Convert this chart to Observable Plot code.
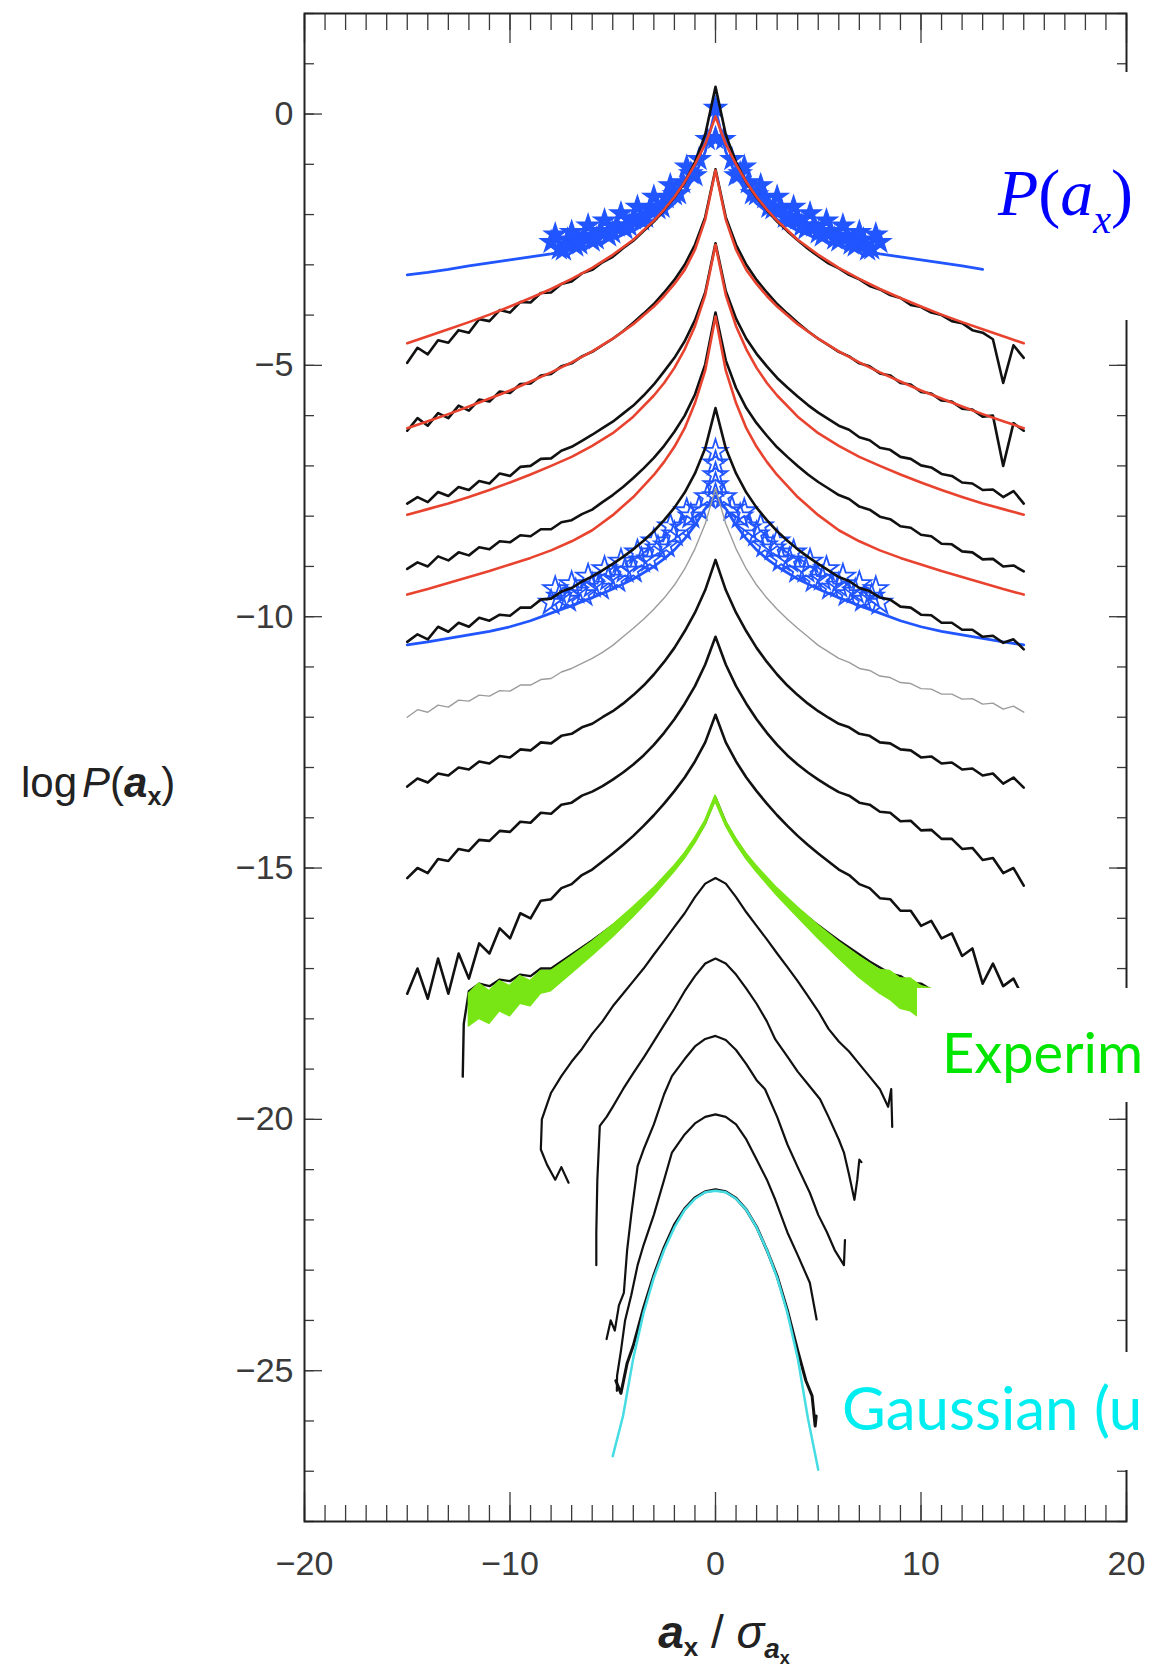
<!DOCTYPE html>
<html><head><meta charset="utf-8">
<script src="https://cdn.jsdelivr.net/npm/d3@7"></script>
<script src="https://cdn.jsdelivr.net/npm/@observablehq/plot@0.6"></script>
<style>
html,body{margin:0;padding:0;background:#fff;overflow:hidden}
#wrap{position:relative;width:1149px;height:1670px;overflow:hidden;background:#fff}
</style></head>
<body><div id="wrap"></div>
<script>
// ---------- tick labels ----------
const xTickLabels = [-20, -10, 0, 10, 20];
const yTickLabels = [0, -5, -10, -15, -20, -25];

// ---------- shared sample grid for the upper data curves ----------
const gridX = [-15,-14.5,-14,-13.5,-13,-12.5,-12,-11.5,-11,-10.5,-10,-9.5,-9,-8.5,-8,-7.5,-7,-6.5,-6,-5.5,-5,-4.5,-4,-3.5,-3,-2.5,-2,-1.5,-1,-0.5,0,0.5,1,1.5,2,2.5,3,3.5,4,4.5,5,5.5,6,6.5,7,7.5,8,8.5,9,9.5,10,10.5,11,11.5,12,12.5,13,13.5,14,14.5,15];

const b1Y = [-4.95,-4.65,-4.78,-4.5,-4.55,-4.3,-4.35,-4.08,-4.12,-3.9,-3.95,-3.74,-3.75,-3.56,-3.55,-3.38,-3.33,-3.17,-3.1,-2.95,-2.84,-2.67,-2.52,-2.33,-2.14,-1.91,-1.66,-1.36,-0.96,-0.41,
 0.54,
 -0.41,-0.96,-1.36,-1.66,-1.91,-2.14,-2.33,-2.51,-2.68,-2.83,-2.97,-3.07,-3.2,-3.29,-3.42,-3.49,-3.6,-3.66,-3.8,-3.84,-3.95,-4.0,-4.12,-4.16,-4.3,-4.35,-4.48,-5.35,-4.6,-4.85];
const b2Y = [-6.3,-6.05,-6.2,-5.95,-6.05,-5.8,-5.9,-5.68,-5.72,-5.52,-5.55,-5.37,-5.36,-5.2,-5.17,-5.02,-4.96,-4.82,-4.73,-4.6,-4.47,-4.32,-4.15,-3.97,-3.78,-3.55,-3.3,-3.0,-2.6,-2.05,
 -1.1,
 -2.05,-2.6,-3.0,-3.3,-3.55,-3.78,-3.97,-4.15,-4.32,-4.47,-4.6,-4.73,-4.82,-4.96,-5.02,-5.16,-5.2,-5.35,-5.38,-5.53,-5.56,-5.7,-5.72,-5.86,-5.88,-6.02,-6.0,-7.0,-6.15,-6.3];
const b3Y = [-7.75,-7.62,-7.72,-7.52,-7.6,-7.42,-7.48,-7.3,-7.35,-7.15,-7.2,-7.02,-7.0,-6.86,-6.85,-6.7,-6.62,-6.5,-6.38,-6.25,-6.12,-5.96,-5.8,-5.6,-5.38,-5.12,-4.85,-4.52,-4.1,-3.55,
 -2.57,
 -3.52,-4.07,-4.47,-4.77,-5.02,-5.25,-5.44,-5.62,-5.79,-5.94,-6.07,-6.2,-6.28,-6.43,-6.49,-6.64,-6.68,-6.82,-6.86,-6.99,-7.03,-7.16,-7.2,-7.33,-7.35,-7.48,-7.47,-7.62,-7.5,-7.75];
const b4Y = [-9.05,-8.92,-9.0,-8.8,-8.88,-8.72,-8.78,-8.62,-8.66,-8.5,-8.52,-8.38,-8.4,-8.26,-8.26,-8.12,-8.08,-7.96,-7.87,-7.72,-7.58,-7.42,-7.24,-7.05,-6.84,-6.6,-6.32,-6.0,-5.58,-4.98,
 -3.95,
 -4.9,-5.45,-5.85,-6.15,-6.4,-6.63,-6.82,-7.0,-7.17,-7.32,-7.45,-7.58,-7.66,-7.81,-7.87,-8.01,-8.06,-8.2,-8.23,-8.37,-8.4,-8.55,-8.56,-8.7,-8.72,-8.86,-8.85,-9.0,-8.98,-9.1];
const b5Y = [-10.5,-10.35,-10.45,-10.2,-10.3,-10.12,-10.2,-10.02,-10.08,-9.96,-9.98,-9.82,-9.82,-9.66,-9.64,-9.5,-9.43,-9.3,-9.2,-9.08,-8.95,-8.81,-8.66,-8.49,-8.3,-8.08,-7.83,-7.53,-7.15,-6.65,
 -5.85,
 -6.65,-7.15,-7.53,-7.83,-8.08,-8.3,-8.49,-8.66,-8.81,-8.95,-9.08,-9.21,-9.29,-9.43,-9.49,-9.62,-9.66,-9.8,-9.82,-9.96,-9.97,-10.12,-10.12,-10.26,-10.26,-10.4,-10.38,-10.52,-10.45,-10.65];
const grayY = [-12.0,-11.85,-11.9,-11.76,-11.8,-11.66,-11.68,-11.56,-11.58,-11.47,-11.48,-11.36,-11.36,-11.25,-11.23,-11.1,-11.03,-10.93,-10.83,-10.71,-10.57,-10.4,-10.23,-10.05,-9.85,-9.63,-9.37,-9.05,-8.65,-8.15,
 -7.45,
 -8.15,-8.65,-9.05,-9.37,-9.63,-9.85,-10.05,-10.23,-10.4,-10.57,-10.7,-10.83,-10.91,-11.03,-11.07,-11.18,-11.21,-11.31,-11.33,-11.43,-11.44,-11.54,-11.54,-11.64,-11.63,-11.74,-11.72,-11.84,-11.78,-11.9];
const b6Y = [-13.38,-13.22,-13.3,-13.12,-13.16,-13.0,-13.04,-12.88,-12.92,-12.77,-12.8,-12.64,-12.66,-12.5,-12.52,-12.37,-12.33,-12.2,-12.13,-12.0,-11.88,-11.73,-11.56,-11.37,-11.15,-10.9,-10.62,-10.29,-9.92,-9.47,
 -8.87,
 -9.47,-9.92,-10.29,-10.62,-10.9,-11.15,-11.37,-11.56,-11.73,-11.88,-12.01,-12.13,-12.2,-12.33,-12.37,-12.5,-12.52,-12.64,-12.66,-12.8,-12.78,-12.92,-12.9,-13.04,-13.02,-13.16,-13.12,-13.32,-13.2,-13.4];
const b7Y = [-15.2,-15.0,-15.1,-14.82,-14.86,-14.62,-14.66,-14.44,-14.46,-14.26,-14.28,-14.08,-14.1,-13.9,-13.92,-13.74,-13.7,-13.56,-13.48,-13.37,-13.24,-13.1,-12.94,-12.76,-12.55,-12.31,-12.04,-11.73,-11.38,-10.95,
 -10.4,
 -10.95,-11.38,-11.73,-12.04,-12.31,-12.55,-12.76,-12.94,-13.1,-13.24,-13.37,-13.49,-13.56,-13.7,-13.74,-13.88,-13.9,-14.07,-14.06,-14.25,-14.24,-14.42,-14.42,-14.62,-14.6,-14.84,-14.8,-15.1,-15.0,-15.35];
const b8Y = [-17.5,-17.0,-17.6,-16.8,-17.5,-16.7,-17.2,-16.5,-16.7,-16.2,-16.4,-15.9,-16.0,-15.65,-15.62,-15.4,-15.32,-15.14,-15.03,-14.87,-14.71,-14.54,-14.36,-14.16,-13.95,-13.72,-13.47,-13.2,-12.88,-12.5,
 -11.95,
 -12.5,-12.88,-13.2,-13.47,-13.72,-13.95,-14.16,-14.36,-14.54,-14.71,-14.87,-15.03,-15.14,-15.32,-15.4,-15.6,-15.62,-15.85,-15.85,-16.15,-16.05,-16.4,-16.3,-16.75,-16.6,-17.3,-16.9,-17.35,-17.2,-17.6];

// ---------- lower data curves (own samples) ----------
const b9X = [-12.3,-12.25,-12,-11.5,-11,-10.5,-10,-9.5,-9,-8.5,-8,-7.5,-7,-6.5,-6,-5.5,-5,-4.5,-4,-3.5,-3,-2.5,-2,-1.5,-1,-0.5,0,0.5,1,1.5,2,2.5,3,3.5,4,4.5,5,5.5,6,6.5,7,7.5,8,8.5,9,9.5,10,10.5,11];
const b9Y = [-19.15,-18.1,-17.45,-17.3,-17.35,-17.22,-17.25,-17.12,-17.15,-17.0,-17.0,-16.86,-16.72,-16.58,-16.44,-16.29,-16.14,-15.98,-15.81,-15.63,-15.44,-15.23,-15.0,-14.75,-14.45,-14.1,-13.6,-14.1,-14.45,-14.75,-15.0,-15.23,-15.44,-15.63,-15.81,-15.98,-16.14,-16.29,-16.44,-16.58,-16.72,-16.86,-16.98,-17.1,-17.15,-17.28,-17.3,-17.42,-17.5];
const b10X = [-7.15,-7.5,-7.8,-8.2,-8.5,-8.45,-8.2,-8.0,-7.5,-7,-6.5,-6,-5.5,-5,-4.5,-4,-3.5,-3,-2.5,-2,-1.5,-1,-0.5,0,0.5,1,1.5,2,2.5,3,3.5,4,4.5,5,5.5,6,6.5,7,7.5,8,8.4,8.55,8.6];
const b10Y = [-21.26,-20.95,-21.2,-20.9,-20.6,-20.0,-19.7,-19.47,-19.14,-18.85,-18.6,-18.3,-18.05,-17.75,-17.5,-17.25,-17.0,-16.72,-16.45,-16.17,-15.9,-15.58,-15.31,-15.2,-15.31,-15.58,-15.88,-16.15,-16.42,-16.7,-16.97,-17.25,-17.55,-17.85,-18.2,-18.45,-18.65,-18.9,-19.15,-19.4,-19.75,-19.4,-20.15];
const b11X = [-5.8,-5.8,-5.75,-5.63,-5.3,-5.0,-4.5,-4.0,-3.45,-3.0,-2.5,-2.0,-1.5,-1.0,-0.5,0,0.5,1.0,1.5,2.0,2.5,2.91,3.5,4.0,4.5,5.09,5.5,6.0,6.25,6.5,6.76,6.9,7.0,7.1];
const b11Y = [-22.9,-22.25,-21.2,-20.13,-19.95,-19.75,-19.4,-19.08,-18.74,-18.45,-18.12,-17.8,-17.45,-17.15,-16.9,-16.8,-16.9,-17.12,-17.4,-17.7,-18.05,-18.41,-18.75,-19.05,-19.3,-19.6,-19.95,-20.4,-20.66,-21.1,-21.6,-21.2,-20.8,-20.85];
const b12X = [-5.3,-5.1,-4.9,-4.7,-4.46,-4.3,-4.1,-3.79,-3.5,-3.0,-2.5,-2.12,-1.5,-1.0,-0.5,0,0.5,1.0,1.5,2.0,2.41,3.0,3.5,4.0,4.59,5.0,5.43,5.8,6.25,6.3];
const b12Y = [-24.37,-24.0,-24.2,-23.7,-23.45,-22.6,-21.9,-20.93,-20.6,-20.1,-19.5,-19.14,-18.8,-18.55,-18.4,-18.34,-18.42,-18.62,-18.9,-19.22,-19.4,-19.95,-20.5,-20.95,-21.46,-21.9,-22.25,-22.6,-22.9,-22.4];
const b13X = [-4.8,-4.79,-4.6,-4.4,-4.1,-3.79,-3.5,-3.0,-2.5,-2.12,-1.5,-1.0,-0.5,0,0.5,1.0,1.5,2.0,2.5,2.91,3.5,4.0,4.59,4.92];
const b13Y = [-25.4,-25.1,-24.6,-24.0,-23.5,-22.9,-22.5,-21.9,-21.2,-20.66,-20.3,-20.08,-19.95,-19.9,-19.95,-20.1,-20.4,-20.8,-21.2,-21.6,-22.25,-22.7,-23.25,-23.98];
const b14X = [-4.85,-4.6,-4.3,-4.0,-3.5,-3.0,-2.5,-2.0,-1.5,-1.0,-0.5,0,0.5,1,1.5,2,2.5,3,3.5,4,4.4,4.7,4.85,4.9];
const b14Y = [-25.2,-25.45,-24.85,-24.5,-23.75,-23.1,-22.55,-22.1,-21.78,-21.56,-21.44,-21.4,-21.44,-21.57,-21.8,-22.14,-22.6,-23.12,-23.8,-24.6,-25.2,-25.5,-26.1,-25.9];

// ---------- experimental (green) band ----------
const greenX = [-12,-11.5,-11,-10.5,-10,-9.5,-9,-8.5,-8,-7,-6,-5,-4,-3,-2,-1.5,-1,-0.5,0,0.5,1,1.5,2,3,4,5,6,7,8,8.5,9,9.5,10,10.5,11];
const greenTop = [-17.5,-17.3,-17.45,-17.25,-17.35,-17.15,-17.25,-17.05,-17.05,-16.76,-16.47,-16.14,-15.78,-15.4,-14.96,-14.71,-14.41,-14.06,-13.56,-14.06,-14.41,-14.71,-14.96,-15.4,-15.78,-16.14,-16.47,-16.76,-17.03,-17.05,-17.2,-17.2,-17.35,-17.4,-17.55];
const greenBottom = [-18.15,-18.0,-18.1,-17.85,-17.95,-17.7,-17.75,-17.5,-17.45,-17.1,-16.75,-16.38,-15.98,-15.55,-15.08,-14.82,-14.52,-14.16,-13.68,-14.16,-14.52,-14.82,-15.08,-15.55,-15.98,-16.4,-16.8,-17.18,-17.5,-17.62,-17.8,-17.85,-18.0,-18.1,-18.15];

// ---------- fits ----------
const fitX = [-15,-14,-13,-12,-11,-10,-9,-8,-7,-6,-5,-4,-3,-2.5,-2,-1.5,-1,-0.5,0,0.5,1,1.5,2,2.5,3,4,5,6,7,8,9,10,11,12,13,14,15];
const red1Y = [-4.56,-4.42,-4.28,-4.14,-3.99,-3.83,-3.66,-3.48,-3.28,-3.06,-2.8,-2.5,-2.12,-1.9,-1.65,-1.35,-1.0,-0.6,-0.05,-0.6,-1.0,-1.35,-1.65,-1.9,-2.12,-2.5,-2.8,-3.06,-3.28,-3.48,-3.66,-3.83,-3.99,-4.14,-4.28,-4.42,-4.56];
const red2Y = [-6.25,-6.11,-5.97,-5.82,-5.66,-5.5,-5.32,-5.14,-4.94,-4.72,-4.47,-4.18,-3.83,-3.62,-3.38,-3.1,-2.7,-2.1,-1.12,-2.1,-2.7,-3.1,-3.38,-3.62,-3.83,-4.18,-4.47,-4.72,-4.94,-5.14,-5.32,-5.5,-5.66,-5.82,-5.97,-6.11,-6.25];
const red3Y = [-7.97,-7.86,-7.75,-7.62,-7.48,-7.33,-7.17,-7.0,-6.82,-6.6,-6.35,-6.02,-5.6,-5.35,-5.05,-4.68,-4.22,-3.6,-2.6,-3.6,-4.22,-4.68,-5.05,-5.35,-5.6,-6.02,-6.35,-6.6,-6.82,-7.0,-7.17,-7.33,-7.48,-7.62,-7.75,-7.86,-7.97];
const red4Y = [-9.56,-9.45,-9.33,-9.21,-9.09,-8.96,-8.83,-8.68,-8.5,-8.28,-7.98,-7.62,-7.18,-6.92,-6.62,-6.25,-5.75,-5.1,-4.03,-5.1,-5.75,-6.25,-6.62,-6.92,-7.18,-7.62,-7.98,-8.28,-8.5,-8.68,-8.83,-8.96,-9.09,-9.21,-9.33,-9.45,-9.56];
const blue1Y = [-3.2,-3.15,-3.09,-3.02,-2.96,-2.9,-2.84,-2.78,-2.7,-2.6,-2.48,-2.32,-2.1,-1.95,-1.78,-1.55,-1.22,-0.75,0.1,-0.75,-1.22,-1.55,-1.78,-1.95,-2.1,-2.32,-2.48,-2.6,-2.7,-2.78,-2.84,-2.9,-2.96,-3.02,-3.09,null,null];
const blue2Y = [-10.56,-10.5,-10.43,-10.36,-10.29,-10.2,-10.08,-9.93,-9.78,-9.62,-9.45,-9.25,-9.0,-8.85,-8.67,-8.45,-8.18,-7.85,-7.6,-7.85,-8.18,-8.45,-8.67,-8.85,-9.0,-9.25,-9.45,-9.62,-9.78,-9.93,-10.08,-10.2,-10.29,-10.36,-10.43,-10.5,-10.56];
const gaussX = [-5,-4.5,-4,-3.5,-3,-2.5,-2,-1.5,-1,-0.5,0,0.5,1,1.5,2,2.5,3,3.5,4,4.5,5];
const gaussY = [-26.7,-25.9,-24.75,-23.85,-23.15,-22.6,-22.15,-21.8,-21.58,-21.45,-21.42,-21.45,-21.58,-21.8,-22.15,-22.6,-23.15,-23.85,-24.75,-25.95,-26.97];

// ---------- simulation markers (blue stars) ----------
const star1X = [-8,-7.6,-7.2,-6.8,-6.4,-6,-5.6,-5.2,-4.8,-4.4,-4,-3.6,-3.2,-2.8,-2.4,-2,-1.6,-1.2,-0.8,-0.4,0,0.4,0.8,1.2,1.6,2,2.4,2.8,3.2,3.6,4,4.4,4.8,5.2,5.6,6,6.4,6.8,7.2,7.6,8,0,
  -7.8,-7,-6.2,-5.4,-4.6,-3.8,-3,-2.2,-1.4,1.4,2.2,3,3.8,4.6,5.4,6.2,7,7.8,
  -7.4,-6.6,-5.8,-5,-4.2,-3.4,-2.6,-1.8,-1,1,1.8,2.6,3.4,4.2,5,5.8,6.6,7.4];
const star1Y = [-2.55,-2.68,-2.5,-2.62,-2.42,-2.52,-2.33,-2.42,-2.22,-2.28,-2.08,-2.1,-1.9,-1.88,-1.66,-1.6,-1.36,-1.18,-0.9,-0.5,0.12,-0.5,-0.9,-1.18,-1.36,-1.6,-1.66,-1.88,-1.9,-2.1,-2.08,-2.28,-2.22,-2.42,-2.33,-2.52,-2.42,-2.62,-2.5,-2.68,-2.55,-0.48,
  -2.4,-2.35,-2.22,-2.12,-1.98,-1.85,-1.65,-1.42,-1.05,-1.05,-1.42,-1.65,-1.85,-1.98,-2.12,-2.22,-2.35,-2.4,
  -2.7,-2.58,-2.48,-2.36,-2.22,-2.05,-1.85,-1.58,-1.22,-1.22,-1.58,-1.85,-2.05,-2.22,-2.36,-2.48,-2.58,-2.7];
const star2X = [-8,-7.6,-7.2,-6.8,-6.4,-6,-5.6,-5.2,-4.8,-4.4,-4,-3.6,-3.2,-2.8,-2.4,-2,-1.6,-1.2,-0.8,-0.4,0,0.4,0.8,1.2,1.6,2,2.4,2.8,3.2,3.6,4,4.4,4.8,5.2,5.6,6,6.4,6.8,7.2,7.6,8,0,0,0,0,
  -7.8,-7,-6.2,-5.4,-4.6,-3.8,-3,-2.2,-1.4,1.4,2.2,3,3.8,4.6,5.4,6.2,7,7.8];
const star2Y = [-9.72,-9.6,-9.66,-9.5,-9.55,-9.38,-9.42,-9.24,-9.27,-9.08,-9.08,-8.88,-8.86,-8.64,-8.58,-8.36,-8.24,-8.0,-7.85,-7.62,-7.6,-7.62,-7.85,-8.0,-8.24,-8.36,-8.58,-8.64,-8.86,-8.88,-9.08,-9.08,-9.27,-9.24,-9.42,-9.38,-9.55,-9.5,-9.66,-9.6,-9.72,-6.72,-6.95,-7.18,-7.38,
  -9.45,-9.35,-9.2,-9.05,-8.9,-8.72,-8.5,-8.2,-7.9,-7.9,-8.2,-8.5,-8.72,-8.9,-9.05,-9.2,-9.35,-9.45];

// ---------- build tables ----------
const pairs = (xs, ys, id) => xs.map((x, i) => ({id, x, y: ys[i]}));
const upperRows = [
  ...pairs(gridX, b1Y, "b1"), ...pairs(gridX, b2Y, "b2"), ...pairs(gridX, b3Y, "b3"),
  ...pairs(gridX, b4Y, "b4"), ...pairs(gridX, b5Y, "b5"), ...pairs(gridX, b6Y, "b6"),
  ...pairs(gridX, b7Y, "b7"), ...pairs(gridX, b8Y, "b8")
];
const lowerRows = [
  ...pairs(b10X, b10Y, "b10"), ...pairs(b11X, b11Y, "b11"), ...pairs(b12X, b12Y, "b12"),
  ...pairs(b13X, b13Y, "b13")
];
const grayRows = pairs(gridX, grayY, "gray");
const b9Rows = pairs(b9X, b9Y, "b9");
const b14Rows = pairs(b14X, b14Y, "b14");
const redRows = [...pairs(fitX, red1Y, "r1"), ...pairs(fitX, red2Y, "r2"), ...pairs(fitX, red3Y, "r3"), ...pairs(fitX, red4Y, "r4")];
const blueRows = [...pairs(fitX, blue1Y, "bl1"), ...pairs(fitX, blue2Y, "bl2")];
const greenRows = greenX.map((x, i) => ({x, hi: greenTop[i], lo: greenBottom[i]}));
const gaussRows = pairs(gaussX, gaussY, "g");
const star1Rows = pairs(star1X, star1Y, "s1");
const star2Rows = pairs(star2X, star2Y, "s2");

const xMinor = d3.range(-20, 21, 1);
const yMinor = d3.range(-28, 3, 1);
const axisCol = "#3a3a3a";
const noText = () => "";
const intFmt = d3.format("d");

const chart = Plot.plot({
  width: 1149, height: 1670,
  marginLeft: 304, marginRight: 23, marginTop: 13, marginBottom: 149,
  x: {domain: [-20, 20]},
  y: {domain: [-28, 2]},
  style: {fontFamily: "'Liberation Sans', Arial, sans-serif", background: "#fff", color: axisCol},
  marks: [
    // ticks (inward)
    Plot.axisX(xMinor, {anchor: "bottom", tickSize: -16, tickFormat: noText, label: null, stroke: axisCol, strokeWidth: 1.3}),
    Plot.axisX(xMinor, {anchor: "top", tickSize: -16, tickFormat: noText, label: null, stroke: axisCol, strokeWidth: 1.3}),
    Plot.axisX(xTickLabels, {anchor: "bottom", tickSize: -29, tickFormat: noText, label: null, stroke: axisCol, strokeWidth: 1.3}),
    Plot.axisX(xTickLabels, {anchor: "top", tickSize: -29, tickFormat: noText, label: null, stroke: axisCol, strokeWidth: 1.3}),
    Plot.axisY(yMinor, {anchor: "left", tickSize: -10, tickFormat: noText, label: null, stroke: axisCol, strokeWidth: 1.3}),
    Plot.axisY(yMinor, {anchor: "right", tickSize: -10, tickFormat: noText, label: null, stroke: axisCol, strokeWidth: 1.3}),
    Plot.axisY(yTickLabels, {anchor: "left", tickSize: -18, tickFormat: noText, label: null, stroke: axisCol, strokeWidth: 1.3}),
    Plot.axisY(yTickLabels, {anchor: "right", tickSize: -18, tickFormat: noText, label: null, stroke: axisCol, strokeWidth: 1.3}),
    // tick labels
    Plot.axisX(xTickLabels, {anchor: "bottom", tickSize: 0, tickPadding: 29, fontSize: 34, tickFormat: intFmt, label: null, fill: axisCol}),
    Plot.axisY(yTickLabels, {anchor: "left", tickSize: 0, tickPadding: 11, fontSize: 34, tickFormat: intFmt, label: null, fill: axisCol}),
    Plot.frame({stroke: "#222", strokeWidth: 2}),
    // simulation stars and fits
    Plot.dot(star1Rows, {x: "x", y: "y", symbol: "star", r: 7, fill: "#2155ff", stroke: "#2155ff", strokeWidth: 1.2}),
    Plot.dot(star2Rows, {x: "x", y: "y", symbol: "star", r: 7.5, fill: "none", stroke: "#2155ff", strokeWidth: 1.8}),
    Plot.line(blueRows, {x: "x", y: "y", z: "id", stroke: "#2155ff", strokeWidth: 2.8}),
    // data
    Plot.line(grayRows, {x: "x", y: "y", stroke: "#9c9c9c", strokeWidth: 1.4}),
    Plot.line(upperRows, {x: "x", y: "y", z: "id", stroke: "#111", strokeWidth: 2.6}),
    Plot.line(lowerRows, {x: "x", y: "y", z: "id", stroke: "#111", strokeWidth: 2.2}),
    Plot.line(redRows, {x: "x", y: "y", z: "id", stroke: "#e8432f", strokeWidth: 2.6}),
    Plot.line(b9Rows, {x: "x", y: "y", stroke: "#111", strokeWidth: 2.4}),
    Plot.areaY(greenRows, {x: "x", y1: "lo", y2: "hi", fill: "#78e614", stroke: "#78e614", strokeWidth: 1.5}),
    Plot.line(b14Rows, {x: "x", y: "y", stroke: "#111", strokeWidth: 3}),
    Plot.line(gaussRows, {x: "x", y: "y", stroke: "#45dde3", strokeWidth: 2.5})
  ]
});
document.getElementById("wrap").append(chart);

// ---------- annotations (pasted labels on white boxes) and axis titles ----------
const svg = d3.select(chart);
const ann = svg.append("g").attr("text-anchor", "start");
ann.append("rect").attr("x", 985).attr("y", 72).attr("width", 164).attr("height", 248).attr("fill", "#fff");
const pt = ann.append("text").attr("x", 998).attr("y", 215).attr("fill", "#0000ff").attr("text-anchor", "start")
  .style("font-family", "'Liberation Serif', 'Times New Roman', serif").style("font-size", "66px");
pt.append("tspan").style("font-style", "italic").text("P");
pt.append("tspan").text("(");
pt.append("tspan").style("font-style", "italic").text("a");
pt.append("tspan").style("font-style", "italic").style("font-size", "40px").attr("dy", 18).text("x");
pt.append("tspan").attr("dy", -18).text(")");

ann.append("rect").attr("x", 917).attr("y", 988).attr("width", 232).attr("height", 114).attr("fill", "#fff");
ann.append("text").attr("x", 942).attr("y", 1073).attr("fill", "#00e600").attr("text-anchor", "start")
  .style("font-family", "Lato, 'Open Sans', sans-serif").style("font-size", "56px").text("Experim");

ann.append("rect").attr("x", 830).attr("y", 1352).attr("width", 319).attr("height", 118).attr("fill", "#fff");
ann.append("text").attr("x", 842).attr("y", 1430).attr("fill", "#00eef0").attr("text-anchor", "start")
  .style("font-family", "Lato, 'Open Sans', sans-serif").style("font-size", "60px").text("Gaussian (u");

// y title
const yt = svg.append("text").attr("x", 21).attr("y", 797).attr("fill", "#222").attr("text-anchor", "start")
  .style("font-family", "'Liberation Sans', Arial, sans-serif").style("font-size", "42px");
yt.append("tspan").text("log");
yt.append("tspan").style("font-style", "italic").attr("dx", 5).text("P");
yt.append("tspan").text("(");
yt.append("tspan").style("font-style", "italic").style("font-weight", "bold").text("a");
yt.append("tspan").style("font-weight", "bold").style("font-size", "25px").attr("dy", 8).text("x");
yt.append("tspan").attr("dy", -8).text(")");

// x title
const xt = svg.append("text").attr("x", 724).attr("y", 1648).attr("fill", "#222").attr("text-anchor", "middle")
  .style("font-family", "'Liberation Sans', Arial, sans-serif").style("font-size", "46px");
xt.append("tspan").style("font-style", "italic").style("font-weight", "bold").text("a");
xt.append("tspan").style("font-weight", "bold").style("font-size", "26px").attr("dy", 8).text("x");
xt.append("tspan").attr("dy", -8).text(" / ");
xt.append("tspan").style("font-style", "italic").text("σ");
xt.append("tspan").style("font-style", "italic").style("font-weight", "bold").style("font-size", "28px").attr("dy", 10).text("a");
xt.append("tspan").style("font-weight", "bold").style("font-size", "18px").attr("dy", 6).text("x");
</script>
</body></html>
